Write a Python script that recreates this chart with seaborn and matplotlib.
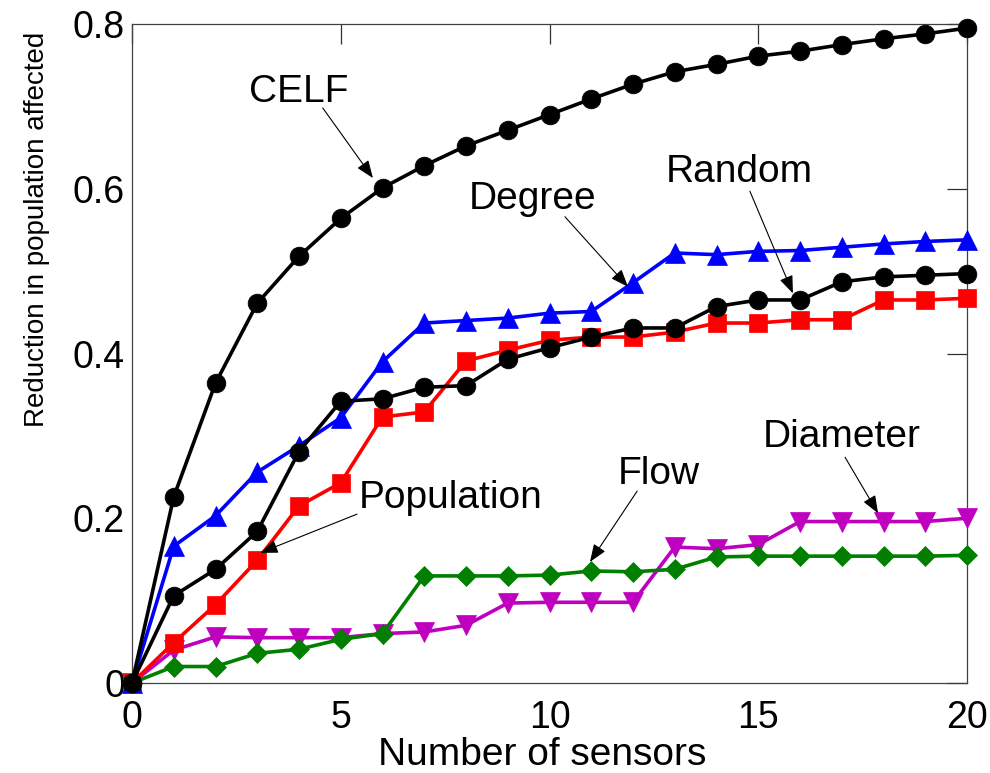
import numpy as np
import pandas as pd
import matplotlib
matplotlib.use("Agg")
import matplotlib.pyplot as plt
import seaborn as sns

sensors = list(range(0, 21))

celf = [0.0, 0.226, 0.364, 0.461, 0.518, 0.564, 0.601, 0.628, 0.652, 0.671, 0.690,
        0.709, 0.727, 0.742, 0.751, 0.761, 0.767, 0.775, 0.782, 0.788, 0.795]
degree = [0.0, 0.166, 0.203, 0.256, 0.288, 0.322, 0.390, 0.437, 0.440, 0.443, 0.449,
          0.451, 0.486, 0.522, 0.520, 0.524, 0.525, 0.529, 0.533, 0.536, 0.538]
random_ = [0.0, 0.106, 0.138, 0.184, 0.281, 0.342, 0.345, 0.359, 0.361, 0.393, 0.407,
           0.420, 0.431, 0.431, 0.457, 0.465, 0.465, 0.487, 0.493, 0.495, 0.497]
population = [0.0, 0.049, 0.095, 0.149, 0.215, 0.243, 0.323, 0.329, 0.391, 0.404, 0.416,
              0.420, 0.420, 0.426, 0.437, 0.437, 0.441, 0.441, 0.465, 0.465, 0.467]
diameter = [0.0, 0.040, 0.056, 0.055, 0.055, 0.055, 0.060, 0.062, 0.070, 0.097, 0.098,
            0.098, 0.098, 0.165, 0.163, 0.168, 0.196, 0.196, 0.196, 0.196, 0.200]
flow = [0.0, 0.020, 0.020, 0.036, 0.041, 0.053, 0.060, 0.130, 0.130, 0.130, 0.131,
        0.136, 0.135, 0.138, 0.153, 0.154, 0.154, 0.154, 0.154, 0.154, 0.155]

x_ticks = [0, 5, 10, 15, 20]
y_ticks = [0, 0.2, 0.4, 0.6, 0.8]
y_tick_labels = ["0", "0.2", "0.4", "0.6", "0.8"]

# label: (text_x, text_baseline_y, tail_x, tail_y, tip_x, tip_y)
annotations = {
    "CELF": (4.00, 0.705, 4.57, 0.698, 5.77, 0.613),
    "Degree": (9.60, 0.575, 10.37, 0.566, 11.88, 0.481),
    "Random": (14.54, 0.608, 14.80, 0.597, 15.83, 0.473),
    "Population": (7.62, 0.212, 5.39, 0.205, 3.07, 0.158),
    "Flow": (12.63, 0.242, 12.10, 0.233, 10.97, 0.147),
    "Diameter": (16.99, 0.286, 17.08, 0.274, 17.87, 0.206),
}

sns.set_theme(style="white")
plt.rcParams['font.family'] = ['Liberation Sans', 'DejaVu Sans']

fig = plt.figure(figsize=(9.9, 7.73), dpi=100)
ax = fig.add_axes([132 / 990, 90 / 773, 835 / 990, 659 / 773])

series = [
    ("Diameter", diameter, "#BF00BF", "v", 14),
    ("Flow", flow, "#007F00", "D", 10.5),
    ("Population", population, "#FF0000", "s", 12.5),
    ("Degree", degree, "#0000FF", "^", 14),
    ("Random", random_, "#000000", "o", 13.5),
    ("CELF", celf, "#000000", "o", 13.5),
]

for name, vals, color, marker, ms in series:
    df = pd.DataFrame({"sensors": sensors, "value": vals})
    sns.lineplot(data=df, x="sensors", y="value", ax=ax, color=color,
                 marker=marker, markersize=ms, markeredgecolor=color,
                 markerfacecolor=color, markeredgewidth=0.5, linewidth=2.6,
                 clip_on=False, legend=False, zorder=3)

ax.set_xlim(0, 20)
ax.set_ylim(0, 0.8)
ax.set_xticks(x_ticks)
ax.set_xticklabels([str(t) for t in x_ticks])
ax.set_yticks(y_ticks)
ax.set_yticklabels(y_tick_labels)

ax.tick_params(axis='both', direction='in', top=True, right=True, length=14.5,
               width=0.9, colors='#303030', labelcolor='black', labelsize=27)
ax.tick_params(axis='x', pad=12)
ax.tick_params(axis='y', pad=5)
for sp in ax.spines.values():
    sp.set_color('#404040')
    sp.set_linewidth(0.9)

ax.set_xlabel("Number of sensors", fontsize=28, color='black')
ax.set_ylabel("Reduction in population affected", fontsize=20, color='black')
ax.xaxis.set_label_coords(0.4916, -0.082)
ax.yaxis.set_label_coords(-0.098, 0.688)

for label, (tx, ty, ax0, ay0, ax1, ay1) in annotations.items():
    ax.text(tx, ty, label, ha='center', va='baseline', fontsize=28, color='black', zorder=5)
    ax.annotate("", xy=(ax1, ay1), xytext=(ax0, ay0),
                arrowprops=dict(arrowstyle='-|>,head_length=0.9,head_width=0.35',
                                lw=0.8, color='black', shrinkA=0, shrinkB=0),
                zorder=5)

fig.savefig("out.png", dpi=100)
